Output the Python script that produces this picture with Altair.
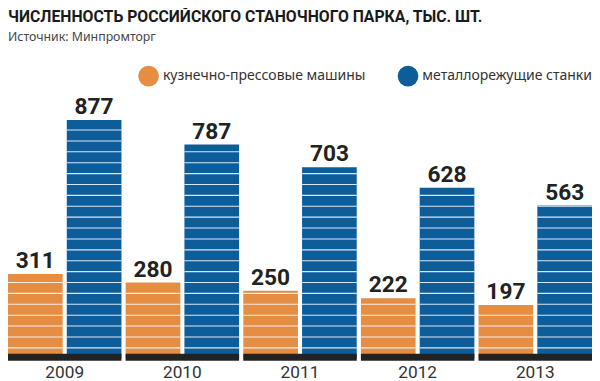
import altair as alt
import pandas as pd

# ---- data ----
years = ["2009", "2010", "2011", "2012", "2013"]
press_machines = [311, 280, 250, 222, 197]
cutting_machines = [877, 787, 703, 628, 563]
series_names = ["кузнечно-прессовые машины", "металлорежущие станки"]
series_colors = ["#E58D43", "#0E5D9B"]
title_text = "ЧИСЛЕННОСТЬ РОССИЙСКОГО СТАНОЧНОГО ПАРКА, ТЫС. ШТ."
subtitle_text = "Источник: Минпромторг"
stripe_step = 40

rows = []
for yr, p, c in zip(years, press_machines, cutting_machines):
    rows.append({"year": yr, "series": series_names[0], "value": p})
    rows.append({"year": yr, "series": series_names[1], "value": c})
df = pd.DataFrame(rows)

stripe_rows = [
    {"year": r["year"], "series": r["series"], "level": lv}
    for r in rows
    for lv in range(stripe_step, r["value"], stripe_step)
]
stripes = pd.DataFrame(stripe_rows)
base_df = pd.DataFrame({"year": years})
title_df = pd.DataFrame({"t": [title_text]})
sub_df = pd.DataFrame({"t": [subtitle_text]})

BOLD = "Roboto, Liberation Sans, sans-serif"
REG = "Noto Sans, Liberation Sans, sans-serif"

x_enc = alt.X(
    "year:N",
    sort=years,
    scale=alt.Scale(paddingInner=0.0356, paddingOuter=0),
    axis=alt.Axis(
        title=None, domain=False, ticks=False, labelAngle=0,
        labelFont="Roboto", labelFontSize=17.5, labelColor="#333333",
        labelBaseline="alphabetic", labelPadding=-1,
    ),
)
xo_enc = alt.XOffset(
    "series:N", sort=series_names,
    scale=alt.Scale(paddingInner=0.07, paddingOuter=0),
)
y_scale = alt.Scale(domain=[-72.5, 1279], nice=False, zero=False)

bars = alt.Chart(df).mark_bar().encode(
    x=x_enc,
    xOffset=xo_enc,
    y=alt.Y("value:Q", scale=y_scale, axis=None),
    color=alt.Color(
        "series:N",
        scale=alt.Scale(domain=series_names, range=series_colors),
        legend=alt.Legend(
            orient="none", legendX=132, legendY=56, direction="horizontal",
            title=None, symbolType="circle", symbolSize=441,
            symbolStrokeWidth=0, symbolOpacity=1,
            labelFont=REG, labelFontSize=14.2, labelColor="#333333",
            labelOffset=4, columnPadding=32, padding=0, labelLimit=400,
        ),
    ),
)

stripe_layer = alt.Chart(stripes).mark_bar(
    fill="white", stroke="white", strokeWidth=1.1, strokeOpacity=0.85
).encode(
    x=alt.X("year:N", sort=years),
    xOffset=alt.XOffset("series:N", sort=series_names),
    y=alt.Y("level:Q", scale=y_scale),
    y2=alt.Y2("level:Q"),
)

baseline = alt.Chart(base_df).mark_bar(color="#222222").encode(
    x=alt.X("year:N", sort=years),
    y=alt.datum(-7),
    y2=alt.datum(18),
)

labels = alt.Chart(df).mark_text(
    dy=-6, baseline="alphabetic", font=BOLD, fontSize=23,
    fontWeight="bold", color="#222222",
).encode(
    x=alt.X("year:N", sort=years),
    xOffset=alt.XOffset("series:N", sort=series_names),
    y=alt.Y("value:Q", scale=y_scale),
    text=alt.Text("value:Q"),
)

title = alt.Chart(title_df).mark_text(
    align="left", baseline="alphabetic", font=BOLD, fontSize=16,
    fontWeight="bold", color="#1a1a1a",
).encode(x=alt.value(0), y=alt.value(12), text="t:N")

subtitle = alt.Chart(sub_df).mark_text(
    align="left", baseline="alphabetic", font=REG, fontSize=12.5,
    color="#444444",
).encode(x=alt.value(0), y=alt.value(31), text="t:N")

chart = alt.layer(bars, stripe_layer, baseline, labels, title, subtitle).properties(
    width=592, height=373,
    autosize=alt.AutoSizeParams(type="none"),
    padding=0,
    background="white",
).configure_view(stroke=None)

chart.save("out.html", embed_options={"renderer": "svg", "actions": False})
